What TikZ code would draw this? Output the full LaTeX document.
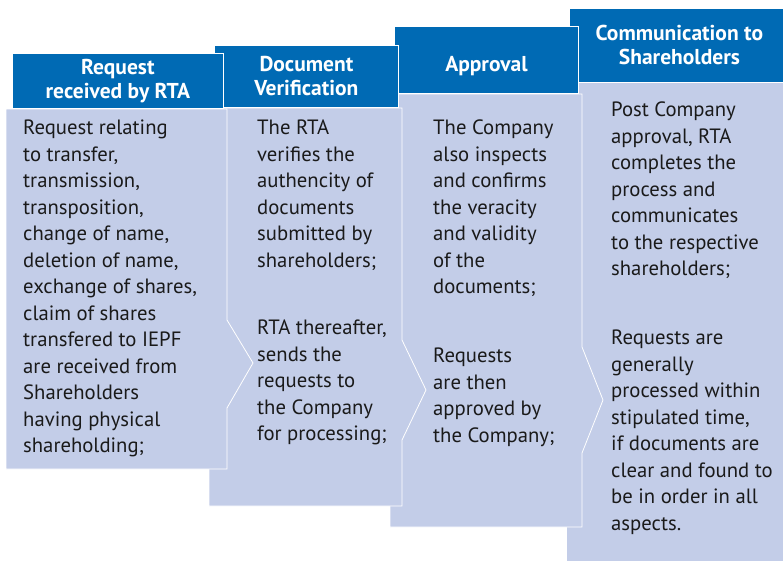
\documentclass[tikz,border=0pt]{standalone}
\usepackage{fontspec}
\setmainfont{PT Sans}
\usepackage{xcolor}
\usepackage{tikz}
\definecolor{rtablue}{HTML}{006AB4}
\definecolor{paleblue}{HTML}{C3CDE8}
\definecolor{inktext}{HTML}{1A1A1A}
\tikzset{
  head/.style={fill=rtablue,draw=white,line width=0.8pt,text=white,
    font=\bfseries\fontsize{21.5}{24}\selectfont,align=center,inner sep=0pt,anchor=north west},
  panel/.style={fill=paleblue,draw=white,line width=0.8pt},
  para/.style={text=inktext,font=\fontsize{20.7}{26.5}\selectfont,align=left,inner sep=0pt,anchor=north west}
}

\begin{document}
\begin{tikzpicture}[x=1pt,y=-1pt]
  \useasboundingbox (0,0) rectangle (783,560);
  \draw[panel] (566,82) rectangle (790,570);
  \node[head,minimum width=220pt,minimum height=74pt] (h4) at (569,8) {Communication to\\Shareholders};
  \draw[panel] (390,94) -- (582,94) -- (582,347) -- (603,400) -- (582,453) -- (582,527) -- (390,527) -- cycle;
  \node[head,minimum width=184pt,minimum height=67pt,text height=27pt] (h3) at (394,26) {Approval};
  \draw[panel] (209,108) -- (402,108) -- (402,340) -- (426,390) -- (402,440) -- (402,506) -- (209,506) -- cycle;
  \node[head,minimum width=184pt,minimum height=62pt] (h2) at (214,45) {Document\\Verification};
  \draw[panel] (6,109) -- (227,109) -- (227,320) -- (253,363) -- (227,408) -- (227,469) -- (6,469) -- cycle;
  \node[head,minimum width=211pt,minimum height=55pt] (h1) at (12,53) {Request\\received by RTA};

  \node[para] (b1) at (23,120) {Request relating\\to transfer,\\transmission,\\transposition,\\change of name,\\deletion of name,\\exchange of shares,\\claim of shares\\transfered to IEPF\\are received from\\Shareholders\\having physical\\shareholding;};
  \node[para] (b2a) at (257,120) {The RTA\\verifies the\\authencity of\\documents\\submitted by\\shareholders;};
  \node[para] (b2b) at (257,320) {RTA thereafter,\\sends the\\requests to\\the Company\\for processing;};
  \node[para] (b3a) at (433,120) {The Company\\also inspects\\and confirms\\the veracity\\and validity\\of the\\documents;};
  \node[para] (b3b) at (433,348) {Requests\\are then\\approved by\\the Company;};
  \node[para] (b4a) at (611,102) {Post Company\\approval, RTA\\completes the\\process and\\communicates\\to the respective\\shareholders;};
  \node[para] (b4b) at (611,330) {Requests are\\generally\\processed within\\stipulated time,\\if documents are\\clear and found to\\be in order in all\\aspects.};
\end{tikzpicture}
\end{document}
